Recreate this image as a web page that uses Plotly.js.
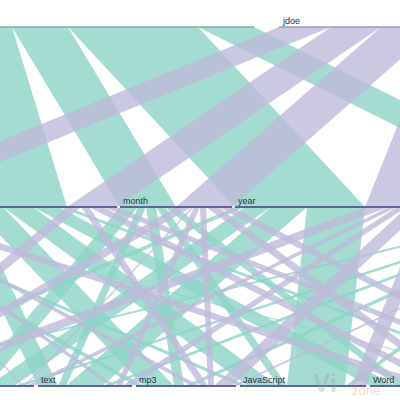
<!DOCTYPE html>
<html><head><meta charset="utf-8">
<script src="https://cdn.plot.ly/plotly-3.0.1.min.js"></script>
<style>html,body{margin:0;padding:0;background:#fff}#chart{width:400px;height:400px}</style>
</head><body><div id="chart"></div>
<script>
// ---- data: file counts by user -> period -> type ----
const users   = ["asmith", "jdoe"];
const periods = ["day", "week", "month", "year", "older"];
const types   = ["PDF", "image", "text", "mp3", "JavaScript", "Word", "Excel"];

// counts per type (in the order of `types`)
const asmith_day   = [50, 30,  0,  8,  8,  0,  4];
const asmith_week  = [30, 30, 20, 30, 30, 26,  8];
const asmith_month = [ 0, 18,  8, 10,  9, 11,  0];
const asmith_year  = [10, 26, 36,  0, 58,  0,  0];
const asmith_older = [ 8,  8,  8,  8,  6, 10,  8];
const jdoe_day     = [16,  2,  6,  8,  0, 20,  0];
const jdoe_week    = [14,  0,  0,  8,  0, 14, 14];
const jdoe_month   = [16,  2,  6,  6,  0, 12, 14];
const jdoe_year    = [24,  8, 10, 18, 15, 49, 66];
const jdoe_older   = [ 0,  0,  0,  4,  0, 18, 18];

const counts = {
  asmith: {day: asmith_day, week: asmith_week, month: asmith_month, year: asmith_year, older: asmith_older},
  jdoe:   {day: jdoe_day,   week: jdoe_week,   month: jdoe_month,   year: jdoe_year,   older: jdoe_older}
};

// ---- layout parameters (view window of a wider parallel-sets chart) ----
const X0 = -262, K = 1;
const DIM_Y = [27, 207, 386];
const GAPS = [25, 3, 4];
const colors = {asmith: "rgba(141,211,199,0.8)", jdoe: "rgba(190,186,218,0.8)"};
const barColors = [["#86aca6", "#9c99b6"], "#5f6596", "#5f6596"];

const sum = a => a.reduce((s, v) => s + v, 0);
const userTot = {}, perTot = {}, typeTot = {};
users.forEach(u => userTot[u] = sum(periods.map(p => sum(counts[u][p]))));
periods.forEach(p => perTot[p] = sum(users.map(u => sum(counts[u][p]))));
types.forEach((t, i) => typeTot[t] = sum(users.flatMap(u => periods.map(p => counts[u][p][i]))));

function place(cats, tot, gap) {
  let x = X0; const pos = {};
  cats.forEach(c => { pos[c] = x; x += tot[c] * K + gap; });
  return pos;
}
const pos1 = place(users, userTot, GAPS[0]);
const pos2 = place(periods, perTot, GAPS[1]);
const pos3 = place(types, typeTot, GAPS[2]);

const traces = [];
function ribbon(xt, xb, w, yt, yb, col) {
  traces.push({
    type: "scatter", mode: "lines", fill: "toself", fillcolor: col,
    line: {width: 0}, hoverinfo: "skip", showlegend: false,
    x: [xt, xt + w, xb + w, xb, xt], y: [yt, yt, yb, yb, yt]
  });
}

// segment users -> periods
const c1 = {...pos1}, c2 = {...pos2};
users.forEach(u => periods.forEach(p => {
  const w = sum(counts[u][p]) * K;
  if (w > 0) ribbon(c1[u], c2[p], w, DIM_Y[0], DIM_Y[1], colors[u]);
  c1[u] += w; c2[p] += w;
}));
// segment periods -> types
const d2 = {...pos2}, d3 = {...pos3};
users.forEach(u => periods.forEach(p => types.forEach((t, i) => {
  const w = counts[u][p][i] * K;
  if (w > 0) ribbon(d2[p], d3[t], w, DIM_Y[1], DIM_Y[2], colors[u]);
  d2[p] += w; d3[t] += w;
})));

// category bars + labels
const annotations = [];
const labelFont = {family: "Liberation Sans, Arial, sans-serif", size: 9, color: "#2b3142"};
[[users, pos1, userTot], [periods, pos2, perTot], [types, pos3, typeTot]].forEach(([cats, pos, tot], di) => {
  cats.forEach((c, ci) => {
    const col = Array.isArray(barColors[di]) ? barColors[di][ci] : barColors[di];
    traces.push({type: "scatter", mode: "lines", x: [pos[c], pos[c] + tot[c] * K], y: [DIM_Y[di], DIM_Y[di]],
      line: {color: col, width: di === 0 ? 1.5 : 2}, hoverinfo: "skip", showlegend: false});
    annotations.push({x: pos[c], y: DIM_Y[di], xref: "x", yref: "y", text: c, showarrow: false,
      xanchor: "left", yanchor: "bottom", xshift: 1, yshift: -1, font: labelFont});
  });
});

// watermark
annotations.push({x: 311, y: 400, xref: "x", yref: "y", showarrow: false, xanchor: "left", yanchor: "bottom",
  text: "<b>Vi</b>", font: {family: "Liberation Sans, Arial, sans-serif", size: 26, color: "rgba(150,160,158,0.35)"}});
annotations.push({x: 350, y: 400, xref: "x", yref: "y", showarrow: false, xanchor: "left", yanchor: "bottom",
  text: "zone", font: {family: "Liberation Sans, Arial, sans-serif", size: 13, color: "rgba(240,170,130,0.45)"}});

Plotly.newPlot("chart", traces, {
  width: 400, height: 400, margin: {l: 0, r: 0, t: 0, b: 0},
  paper_bgcolor: "#fff", plot_bgcolor: "#fff", showlegend: false,
  xaxis: {range: [0, 400], visible: false, fixedrange: true},
  yaxis: {range: [400, 0], visible: false, fixedrange: true},
  annotations: annotations
}, {displayModeBar: false, staticPlot: true});
</script></body></html>
